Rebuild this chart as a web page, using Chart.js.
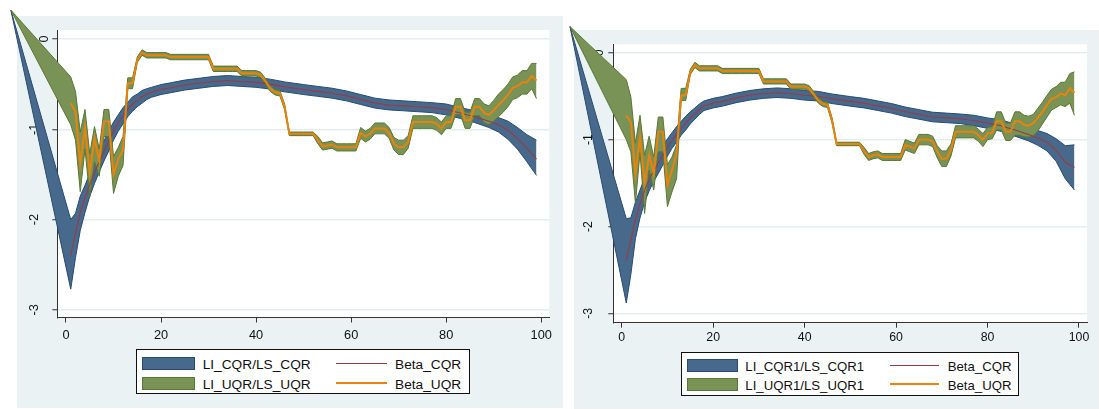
<!DOCTYPE html>
<html><head><meta charset="utf-8">
<script src="https://cdn.jsdelivr.net/npm/chart.js@4.4.1/dist/chart.umd.min.js"></script>
<style>
html,body{margin:0;padding:0;background:#fff;}
body{width:1099px;height:409px;position:relative;overflow:hidden;font-family:"Liberation Sans",Arial,Helvetica,sans-serif;}
.bg{position:absolute;background:#eaf2f3;}
canvas{position:absolute;top:0;}
.legend{position:absolute;background:#fff;border:1px solid #111;box-sizing:border-box;}
.legend div{position:absolute;}
.sw{box-sizing:border-box;border:1px solid;}
.tx{white-space:nowrap;color:#111;line-height:15px;}
</style>
</head><body>
<div class="bg" id="bgL"></div>
<div class="bg" id="bgR"></div>
<canvas id="cL" width="566" height="409" style="left:0px"></canvas>
<canvas id="cR" width="533" height="409" style="left:566px"></canvas>
<div class="legend" id="legL"></div>
<div class="legend" id="legR"></div>
<script>
// ---------------- DATA ----------------
const xTicks = [0, 20, 40, 60, 80, 100];
const yTicks = [0, -1, -2, -3];

// stray first vertex of the bands (drawn outside the plot region in the original)
const cornerX_L = -11.6, cornerY_L = 0.32;
const cornerX_R = -11.3, cornerY_R = 0.30;

// CQR series (left panel)
const xC_L = [1,2,3,4,5,6,7,8,9,10,11,12,13,14,15,16,17,18,20,22,25,28,31,34,37,40,43,46,50,53,56,59,62,65,68,71,74,77,80,83,86,89,91,93,95,97,99];
const betaC_L = [-2.40,-2.15,-1.92,-1.76,-1.61,-1.48,-1.36,-1.24,-1.13,-1.02,-0.93,-0.85,-0.78,-0.72,-0.68,-0.64,-0.61,-0.59,-0.56,-0.54,-0.51,-0.49,-0.47,-0.46,-0.47,-0.48,-0.50,-0.53,-0.56,-0.58,-0.60,-0.63,-0.67,-0.71,-0.73,-0.74,-0.75,-0.76,-0.78,-0.82,-0.86,-0.91,-0.95,-1.01,-1.10,-1.21,-1.33];
const upC_L = [-2.00,-1.93,-1.74,-1.62,-1.49,-1.37,-1.25,-1.13,-1.02,-0.92,-0.84,-0.76,-0.70,-0.64,-0.61,-0.57,-0.55,-0.535,-0.505,-0.485,-0.455,-0.435,-0.415,-0.405,-0.415,-0.425,-0.445,-0.475,-0.505,-0.525,-0.545,-0.575,-0.615,-0.655,-0.675,-0.685,-0.695,-0.705,-0.72,-0.76,-0.795,-0.84,-0.87,-0.91,-0.98,-1.06,-1.12];
const loC_L = [-2.77,-2.42,-2.12,-1.92,-1.74,-1.60,-1.47,-1.35,-1.24,-1.12,-1.02,-0.94,-0.86,-0.80,-0.75,-0.71,-0.67,-0.645,-0.615,-0.595,-0.565,-0.545,-0.525,-0.515,-0.525,-0.535,-0.555,-0.585,-0.615,-0.635,-0.655,-0.685,-0.725,-0.765,-0.785,-0.795,-0.805,-0.815,-0.84,-0.88,-0.925,-0.98,-1.03,-1.11,-1.22,-1.36,-1.51];

// CQR series (right panel)
const xC_R = [1,2,3,4,5,6,7,8,9,10,11,12,13,14,15,16,17,18,20,22,25,28,31,34,37,40,43,46,50,53,56,59,62,65,68,71,74,77,80,83,86,89,91,93,95,97,99];
const betaC_R = [-2.39,-2.15,-1.92,-1.74,-1.58,-1.46,-1.36,-1.27,-1.18,-1.09,-1.01,-0.94,-0.87,-0.81,-0.75,-0.70,-0.65,-0.61,-0.58,-0.56,-0.52,-0.49,-0.47,-0.46,-0.47,-0.49,-0.50,-0.53,-0.56,-0.58,-0.61,-0.64,-0.68,-0.71,-0.74,-0.75,-0.76,-0.78,-0.81,-0.84,-0.89,-0.94,-0.98,-1.03,-1.12,-1.26,-1.32];
const upC_R = [-1.91,-1.90,-1.72,-1.58,-1.44,-1.33,-1.24,-1.15,-1.07,-0.99,-0.92,-0.85,-0.79,-0.73,-0.68,-0.635,-0.59,-0.555,-0.525,-0.505,-0.465,-0.435,-0.415,-0.405,-0.415,-0.435,-0.445,-0.475,-0.505,-0.525,-0.555,-0.585,-0.625,-0.655,-0.685,-0.695,-0.705,-0.72,-0.75,-0.775,-0.82,-0.865,-0.895,-0.93,-0.99,-1.07,-1.06];
const loC_R = [-2.88,-2.55,-2.14,-1.90,-1.72,-1.59,-1.48,-1.39,-1.29,-1.19,-1.10,-1.03,-0.95,-0.89,-0.82,-0.765,-0.71,-0.665,-0.635,-0.615,-0.575,-0.545,-0.525,-0.515,-0.525,-0.545,-0.555,-0.585,-0.615,-0.635,-0.665,-0.695,-0.735,-0.765,-0.795,-0.805,-0.815,-0.84,-0.87,-0.905,-0.96,-1.015,-1.065,-1.13,-1.25,-1.45,-1.58];

// UQR series, x = 1..99
const xU = [1,2,3,4,5,6,7,8,9,10,11,12,13,14,15,16,17,18,19,20,21,22,23,24,25,26,27,28,29,30,31,32,33,34,35,36,37,38,39,40,41,42,43,44,45,46,47,48,49,50,51,52,53,54,55,56,57,58,59,60,61,62,63,64,65,66,67,68,69,70,71,72,73,74,75,76,77,78,79,80,81,82,83,84,85,86,87,88,89,90,91,92,93,94,95,96,97,98,99];

const betaU_L = [-0.71,-0.81,-1.38,-0.98,-1.48,-1.10,-1.35,-0.91,-0.91,-1.50,
 -1.33,-1.23,-0.49,-0.49,-0.23,-0.15,-0.18,-0.18,-0.18,-0.18,
 -0.18,-0.20,-0.20,-0.20,-0.20,-0.20,-0.20,-0.20,-0.20,-0.20,
 -0.33,-0.33,-0.33,-0.33,-0.33,-0.33,-0.38,-0.38,-0.38,-0.38,
 -0.40,-0.47,-0.55,-0.59,-0.60,-0.75,-1.05,-1.05,-1.05,-1.05,
 -1.05,-1.05,-1.12,-1.19,-1.18,-1.17,-1.20,-1.20,-1.20,-1.20,
 -1.20,-1.04,-1.08,-1.05,-0.99,-0.99,-0.99,-1.04,-1.16,-1.20,
 -1.20,-1.14,-0.92,-0.92,-0.92,-0.92,-0.92,-0.94,-0.99,-0.92,
 -0.92,-0.75,-0.75,-0.90,-0.90,-0.75,-0.75,-0.82,-0.84,-0.79,
 -0.73,-0.68,-0.62,-0.54,-0.52,-0.48,-0.48,-0.41,-0.46];
const upU_L = [-0.42,-0.58,-1.03,-0.78,-1.27,-0.97,-1.22,-0.78,-0.78,-1.30,
 -1.20,-1.08,-0.43,-0.43,-0.20,-0.12,-0.15,-0.15,-0.15,-0.15,
 -0.15,-0.17,-0.17,-0.17,-0.17,-0.17,-0.17,-0.17,-0.17,-0.17,
 -0.30,-0.30,-0.30,-0.30,-0.30,-0.30,-0.35,-0.35,-0.35,-0.35,
 -0.37,-0.44,-0.52,-0.56,-0.57,-0.72,-1.03,-1.03,-1.03,-1.03,
 -1.03,-1.03,-1.08,-1.15,-1.14,-1.13,-1.16,-1.16,-1.16,-1.16,
 -1.16,-0.98,-1.02,-0.99,-0.93,-0.93,-0.93,-0.98,-1.09,-1.12,
 -1.12,-1.07,-0.85,-0.85,-0.85,-0.85,-0.85,-0.87,-0.92,-0.85,
 -0.85,-0.66,-0.66,-0.81,-0.81,-0.66,-0.66,-0.72,-0.74,-0.68,
 -0.61,-0.56,-0.50,-0.42,-0.40,-0.35,-0.35,-0.27,-0.27];
const loU_L = [-0.95,-1.12,-1.69,-1.22,-1.75,-1.36,-1.52,-1.08,-1.08,-1.71,
 -1.52,-1.40,-0.55,-0.55,-0.26,-0.18,-0.21,-0.21,-0.21,-0.21,
 -0.21,-0.23,-0.23,-0.23,-0.23,-0.23,-0.23,-0.23,-0.23,-0.23,
 -0.36,-0.36,-0.36,-0.36,-0.36,-0.36,-0.41,-0.41,-0.41,-0.41,
 -0.43,-0.50,-0.58,-0.62,-0.63,-0.78,-1.07,-1.07,-1.07,-1.07,
 -1.07,-1.07,-1.16,-1.23,-1.22,-1.21,-1.24,-1.24,-1.24,-1.24,
 -1.24,-1.10,-1.14,-1.11,-1.05,-1.05,-1.05,-1.10,-1.23,-1.28,
 -1.28,-1.21,-0.99,-0.99,-0.99,-0.99,-0.99,-1.01,-1.06,-0.99,
 -0.99,-0.84,-0.84,-0.99,-0.99,-0.85,-0.85,-0.93,-0.95,-0.91,
 -0.86,-0.81,-0.75,-0.67,-0.65,-0.61,-0.61,-0.55,-0.66];

const betaU_R = [-0.72,-0.80,-1.39,-0.97,-1.50,-1.18,-1.39,-0.91,-0.91,-1.52,
 -1.35,-1.16,-0.49,-0.49,-0.22,-0.14,-0.18,-0.18,-0.18,-0.18,
 -0.18,-0.21,-0.21,-0.21,-0.21,-0.21,-0.21,-0.21,-0.21,-0.21,
 -0.33,-0.33,-0.33,-0.33,-0.33,-0.33,-0.39,-0.39,-0.39,-0.39,
 -0.41,-0.48,-0.55,-0.59,-0.60,-0.78,-1.05,-1.05,-1.05,-1.05,
 -1.05,-1.05,-1.13,-1.20,-1.18,-1.17,-1.20,-1.20,-1.20,-1.20,
 -1.20,-1.06,-1.08,-1.10,-1.00,-1.00,-1.00,-1.02,-1.14,-1.22,
 -1.22,-1.12,-0.91,-0.91,-0.91,-0.91,-0.91,-0.95,-1.00,-0.93,
 -0.92,-0.79,-0.79,-0.91,-0.91,-0.79,-0.79,-0.83,-0.84,-0.81,
 -0.75,-0.68,-0.60,-0.53,-0.51,-0.47,-0.49,-0.41,-0.46];
const upU_R = [-0.31,-0.51,-1.04,-0.72,-1.18,-0.96,-1.20,-0.74,-0.74,-1.29,
 -1.20,-1.06,-0.41,-0.41,-0.19,-0.11,-0.15,-0.15,-0.15,-0.15,
 -0.15,-0.18,-0.18,-0.18,-0.18,-0.18,-0.18,-0.18,-0.18,-0.18,
 -0.30,-0.30,-0.30,-0.30,-0.30,-0.30,-0.36,-0.36,-0.36,-0.36,
 -0.38,-0.45,-0.52,-0.56,-0.57,-0.75,-1.03,-1.03,-1.03,-1.03,
 -1.03,-1.03,-1.09,-1.16,-1.14,-1.13,-1.16,-1.16,-1.16,-1.16,
 -1.16,-1.00,-1.02,-1.04,-0.94,-0.94,-0.94,-0.96,-1.07,-1.13,
 -1.13,-1.05,-0.84,-0.84,-0.84,-0.84,-0.84,-0.88,-0.93,-0.86,
 -0.85,-0.68,-0.68,-0.81,-0.81,-0.68,-0.68,-0.72,-0.73,-0.71,
 -0.64,-0.57,-0.49,-0.42,-0.39,-0.34,-0.34,-0.24,-0.22];
const loU_R = [-1.00,-1.14,-1.73,-1.15,-1.85,-1.35,-1.58,-1.14,-1.14,-1.77,
 -1.60,-1.45,-0.55,-0.55,-0.25,-0.17,-0.21,-0.21,-0.21,-0.21,
 -0.21,-0.24,-0.24,-0.24,-0.24,-0.24,-0.24,-0.24,-0.24,-0.24,
 -0.36,-0.36,-0.36,-0.36,-0.36,-0.36,-0.42,-0.42,-0.42,-0.42,
 -0.44,-0.51,-0.58,-0.62,-0.63,-0.81,-1.07,-1.07,-1.07,-1.07,
 -1.07,-1.07,-1.17,-1.24,-1.22,-1.21,-1.24,-1.24,-1.24,-1.24,
 -1.24,-1.12,-1.14,-1.16,-1.06,-1.06,-1.06,-1.08,-1.21,-1.31,
 -1.31,-1.19,-0.98,-0.98,-0.98,-0.98,-0.98,-1.02,-1.08,-1.00,
 -0.99,-0.89,-0.89,-1.01,-1.01,-0.95,-0.95,-0.97,-0.97,-0.96,
 -0.90,-0.82,-0.74,-0.66,-0.63,-0.60,-0.62,-0.58,-0.72];

const labelsL = ["LI_CQR/LS_CQR", "LI_UQR/LS_UQR", "Beta_CQR", "Beta_UQR"];
const labelsR = ["LI_CQR1/LS_CQR1", "LI_UQR1/LS_UQR1", "Beta_CQR", "Beta_UQR"];

// ---------------- STYLE ----------------
const FONT = '"Liberation Sans", Arial, Helvetica, sans-serif';
const C = {
  blueFill: '#476a8c', blueEdge: '#284b71',
  greenFill: '#799255', greenEdge: '#587833',
  red: '#9a3a44', orange: '#e8830c',
  grid: '#e4edef', axis: '#333333', text: '#111111'
};

const layoutL = {bg:{left:17,top:16,w:546,h:392}, padTop:30, padRight:16.7, yW:57.3, xH:91.5,
  xMin:-1.83, xMax:101.7, yMin:-3.084, yMax:0.0997, font:12.8, yPad:12.5, yLH:1.64, xPad:4.8,
  leg:{left:136,top:349,w:334,h:45, fs:13.7, sw:[5,6.5,52.5,13.5], sw2:20, tx:65.7, ty:7.2, ln:199, lnW:51, lnY:13.3, tx2:258}};
const layoutR = {bg:{left:574,top:30,w:525,h:379}, padTop:44.3, padRight:12, yW:47.3, xH:86.3,
  xMin:-1.84, xMax:101.75, yMin:-3.107, yMax:0.097, font:12.3, yPad:14, yLH:1.71, xPad:2.6,
  leg:{left:681,top:352,w:338,h:44, fs:13.2, sw:[5,5.7,50.7,13.3], sw2:19, tx:63.3, ty:6.2, ln:208.3, lnW:49, lnY:12.3, tx2:265.7}};

// ---------------- PLUGINS ----------------
const plotBg = {id:'plotBg', beforeDraw(c){
  const a = c.chartArea, ctx = c.ctx;
  ctx.save(); ctx.fillStyle = '#ffffff';
  ctx.fillRect(a.left, a.top, a.right - a.left, a.bottom - a.top); ctx.restore();
}};
// the original bands run outside the plot region (to their stray first vertex): let the fill overflow too
const openFill = {id:'openFill',
  beforeDatasetsDraw(c){ c.$saved = c.chartArea; c.chartArea = {left:0, top:0, right:c.width, bottom:c.height, width:c.width, height:c.height}; },
  afterDatasetsDraw(c){ if (c.$saved) { c.chartArea = c.$saved; c.$saved = null; } }
};

function pts(xs, ys){ return xs.map((x, i) => ({x: x, y: ys[i]})); }

function makeChart(id, L, d){
  const common = {pointRadius:0, pointHoverRadius:0, tension:0, clip:false, spanGaps:true};
  const datasets = [
    Object.assign({label:d.labels[0], data:[{x:d.cx, y:d.cy}].concat(pts(d.xC, d.upC)), borderColor:C.blueEdge, backgroundColor:C.blueFill, borderWidth:1, fill:'+1', order:6}, common),
    Object.assign({label:d.labels[0]+' (lower)', data:[{x:d.cx, y:d.cy}].concat(pts(d.xC, d.loC)), borderColor:C.blueEdge, backgroundColor:C.blueFill, borderWidth:1, fill:false, order:5}, common),
    Object.assign({label:d.labels[1], data:[{x:d.cx, y:d.cy}].concat(pts(d.xU, d.upU)), borderColor:C.greenEdge, backgroundColor:C.greenFill, borderWidth:1, fill:'+1', order:4}, common),
    Object.assign({label:d.labels[1]+' (lower)', data:[{x:d.cx, y:d.cy}].concat(pts(d.xU, d.loU)), borderColor:C.greenEdge, backgroundColor:C.greenFill, borderWidth:1, fill:false, order:3}, common),
    Object.assign({label:d.labels[2], data:pts(d.xC, d.betaC), borderColor:C.red, borderWidth:1.1, fill:false, order:2}, common),
    Object.assign({label:d.labels[3], data:pts(d.xU, d.betaU), borderColor:C.orange, borderWidth:2, fill:false, order:1}, common)
  ];
  return new Chart(document.getElementById(id), {
    type:'line',
    data:{datasets},
    plugins:[plotBg, openFill],
    options:{
      responsive:false, animation:false, events:[], devicePixelRatio:1,
      layout:{padding:{left:0, top:L.padTop, right:L.padRight, bottom:0}},
      plugins:{legend:{display:false}, tooltip:{enabled:false}},
      scales:{
        x:{type:'linear', position:'bottom', min:L.xMin, max:L.xMax,
          afterBuildTicks(s){ s.ticks = xTicks.map(v => ({value:v})); },
          afterFit(s){ s.height = L.xH; s.paddingLeft = 0; s.paddingRight = 0; s.paddingTop = 0; s.paddingBottom = 0; },
          grid:{drawOnChartArea:false, drawTicks:true, tickLength:5, tickColor:C.axis, tickWidth:1},
          border:{display:true, color:C.axis, width:1},
          ticks:{color:C.text, font:{family:FONT, size:L.font}, padding:L.xPad, maxRotation:0, minRotation:0, autoSkip:false,
            callback:(v) => String(v)}
        },
        y:{type:'linear', position:'left', min:L.yMin, max:L.yMax,
          afterBuildTicks(s){ s.ticks = yTicks.map(v => ({value:v})); },
          afterFit(s){ s.width = L.yW; s.paddingLeft = 0; s.paddingRight = 0; s.paddingTop = 0; s.paddingBottom = 0; },
          grid:{color:C.grid, lineWidth:1.5, drawTicks:true, tickLength:5, tickColor:C.axis, tickWidth:1},
          border:{display:true, color:C.axis, width:1},
          ticks:{color:C.text, font:{family:FONT, size:L.font, lineHeight:L.yLH}, padding:L.yPad, minRotation:90, maxRotation:90,
            crossAlign:'center', autoSkip:false,
            callback:(v) => v === 0 ? ['', '0'] : String(v)}
        }
      }
    }
  });
}

function setBox(el, b){ el.style.left=b.left+'px'; el.style.top=b.top+'px'; el.style.width=b.w+'px'; el.style.height=b.h+'px'; }

function makeLegend(id, L, labels){
  const g = L.leg, el = document.getElementById(id);
  setBox(el, {left:g.left, top:g.top, w:g.w, h:g.h});
  const rows = [[C.blueFill, C.blueEdge, labels[0], C.red, 1.2, labels[2]], [C.greenFill, C.greenEdge, labels[1], C.orange, 2, labels[3]]];
  rows.forEach((r, i) => {
    const dy = i * g.sw2;
    const sw = document.createElement('div'); sw.className='sw';
    sw.style.cssText += `left:${g.sw[0]}px;top:${g.sw[1]+dy}px;width:${g.sw[2]}px;height:${g.sw[3]}px;background:${r[0]};border-color:${r[1]};`;
    el.appendChild(sw);
    const t1 = document.createElement('div'); t1.className='tx'; t1.textContent = r[2];
    t1.style.cssText += `left:${g.tx}px;top:${g.ty+dy}px;font-size:${g.fs}px;`;
    el.appendChild(t1);
    const ln = document.createElement('div');
    ln.style.cssText = `position:absolute;left:${g.ln}px;top:${g.lnY+dy - r[4]/2}px;width:${g.lnW}px;height:${r[4]}px;background:${r[3]};`;
    el.appendChild(ln);
    const t2 = document.createElement('div'); t2.className='tx'; t2.textContent = r[5];
    t2.style.cssText += `left:${g.tx2}px;top:${g.ty+dy}px;font-size:${g.fs}px;`;
    el.appendChild(t2);
  });
}

setBox(document.getElementById('bgL'), layoutL.bg);
setBox(document.getElementById('bgR'), layoutR.bg);

makeChart('cL', layoutL, {labels:labelsL, cx:cornerX_L, cy:cornerY_L, xC:xC_L, betaC:betaC_L, upC:upC_L, loC:loC_L, xU:xU, betaU:betaU_L, upU:upU_L, loU:loU_L});
makeChart('cR', layoutR, {labels:labelsR, cx:cornerX_R, cy:cornerY_R, xC:xC_R, betaC:betaC_R, upC:upC_R, loC:loC_R, xU:xU, betaU:betaU_R, upU:upU_R, loU:loU_R});
makeLegend('legL', layoutL, labelsL);
makeLegend('legR', layoutR, labelsR);
</script>
</body></html>
